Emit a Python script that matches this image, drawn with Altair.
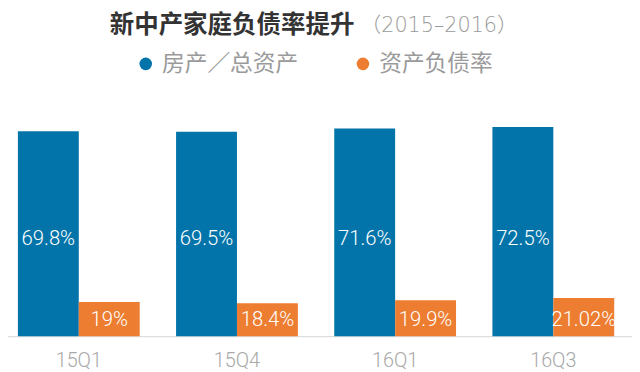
import altair as alt
import pandas as pd

quarters = ["15Q1", "15Q4", "16Q1", "16Q3"]
series = ["房产／总资产", "资产负债率"]
house_ratio = [69.8, 69.5, 71.6, 72.5]
debt_ratio = [19, 18.4, 19.9, 21.02]
colors = ["#0274aa", "#ed7d31"]
title_main = "新中产家庭负债率提升"
title_sub = "（2015–2016）"

rows = []
for q, v in zip(quarters, house_ratio):
    rows.append({"quarter": q, "series": series[0], "value": v, "label": f"{v:g}%"})
for q, v in zip(quarters, debt_ratio):
    rows.append({"quarter": q, "series": series[1], "value": v, "label": f"{v:g}%"})
df = pd.DataFrame(rows)

BASE = 338

x_enc = alt.X(
    "quarter:N", sort=quarters,
    scale=alt.Scale(paddingInner=0.23, paddingOuter=0.1125),
    axis=alt.Axis(title=None, domainColor="#dddddd", domainWidth=1.5, ticks=False,
                  tickSize=0, labelFontSize=20, labelColor="#a8a8a8", labelFont="Roboto",
                  labelFontWeight=300, labelPadding=31, labelBaseline="alphabetic",
                  labelAngle=0, grid=False),
)
xo_enc = alt.XOffset("series:N", sort=series,
                     scale=alt.Scale(domain=series, paddingInner=0, paddingOuter=0))
color_enc = alt.Color(
    "series:N",
    scale=alt.Scale(domain=series, range=colors),
    legend=alt.Legend(orient="none", legendX=136, legendY=50.5, direction="horizontal",
                      title=None, symbolType="circle", symbolSize=161, symbolStrokeWidth=0,
                      symbolOpacity=1, labelFontSize=23, labelFont="Noto Sans CJK SC",
                      labelColor="#9a9a9a", labelOffset=5, columnPadding=54, padding=0),
)

base = alt.Chart(df).encode(x=x_enc, xOffset=xo_enc)

blue = base.transform_filter(alt.datum.series == series[0])
orange = base.transform_filter(alt.datum.series == series[1])

blue_bars = blue.mark_bar().encode(
    y=alt.Y("value:Q", stack=None,
            scale=alt.Scale(domain=[-59.9, 77.6], range=[BASE, 118]), axis=None),
    y2=alt.value(BASE),
    color=color_enc,
)
orange_bars = orange.mark_bar().encode(
    y=alt.Y("value:Q", stack=None,
            scale=alt.Scale(domain=[1.97, 110.3], range=[BASE, 118]), axis=None),
    y2=alt.value(BASE),
    color=color_enc,
)
label_style = dict(font="Roboto", fontWeight=300, fontSize=20.5, color="white",
                   align="center", baseline="alphabetic")
blue_text = blue.mark_text(**label_style).encode(text="label:N", y=alt.value(245.7))
orange_text = orange.mark_text(**label_style).encode(text="label:N", y=alt.value(328))

t1 = alt.Chart(pd.DataFrame({"t": [title_main]})).mark_text(
    font="Noto Sans CJK SC", fontWeight="bold", fontSize=24.8, color="#333333",
    align="left", baseline="alphabetic"
).encode(text="t:N", x=alt.value(111), y=alt.value(30.5))
t2 = alt.Chart(pd.DataFrame({"t": [title_sub]})).mark_text(
    font="DejaVu Sans, Noto Sans CJK SC", fontWeight=300, fontSize=21, color="#9a9a9a",
    align="left", baseline="alphabetic"
).encode(text="t:N", x=alt.value(365), y=alt.value(29.5))

chart = alt.layer(blue_bars, orange_bars, blue_text, orange_text, t1, t2).resolve_scale(
    y="independent"
).properties(
    width=640, height=BASE,
    padding={"left": -8, "top": -8, "right": 0, "bottom": 0},
    background="white",
).configure_view(stroke=None)

chart.save("out.html", embed_options={"renderer": "svg", "actions": False})
